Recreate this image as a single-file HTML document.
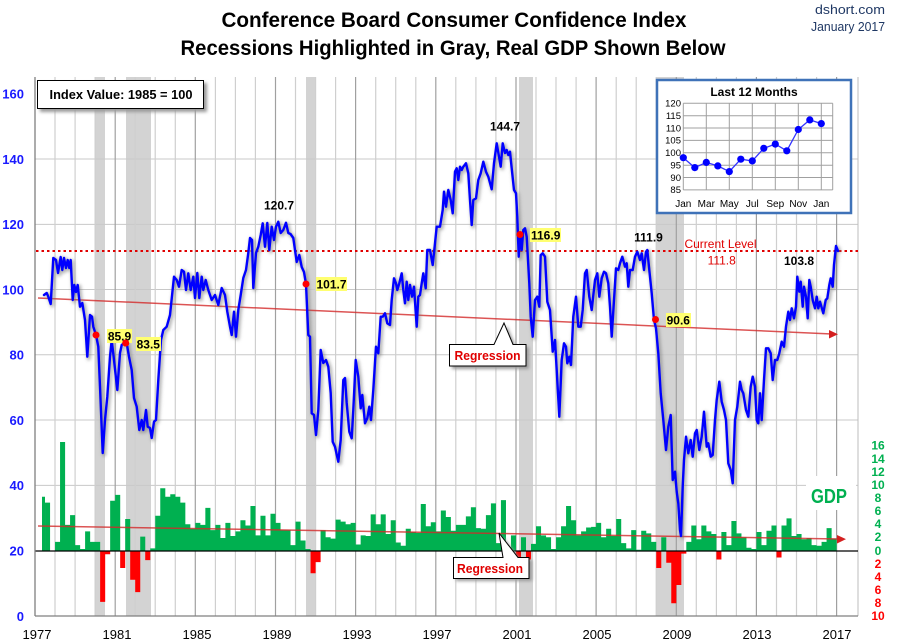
<!DOCTYPE html>
<html><head><meta charset="utf-8"><style>
html,body{margin:0;padding:0;background:#fff;width:900px;height:640px;overflow:hidden}
svg{display:block;font-family:"Liberation Sans",Arial,sans-serif}
</style></head><body>
<svg width="900" height="640" viewBox="0 0 900 640" xmlns="http://www.w3.org/2000/svg">
<defs>
<filter id="blur" x="-5%" y="-5%" width="110%" height="110%"><feGaussianBlur stdDeviation="1.6"/></filter>
<filter id="bsh" x="-10%" y="-20%" width="130%" height="150%"><feGaussianBlur stdDeviation="1.5"/></filter>
</defs>
<rect width="900" height="640" fill="#fff"/>

<!-- Title -->
<text x="454" y="27" text-anchor="middle" font-size="21" font-weight="bold" textLength="465" lengthAdjust="spacingAndGlyphs">Conference Board Consumer Confidence Index</text>
<text x="453" y="55" text-anchor="middle" font-size="21" font-weight="bold" textLength="545" lengthAdjust="spacingAndGlyphs">Recessions Highlighted in Gray, Real GDP Shown Below</text>
<text x="885" y="14" text-anchor="end" font-size="13" fill="#1f3864" textLength="70" lengthAdjust="spacingAndGlyphs">dshort.com</text>
<text x="885" y="31" text-anchor="end" font-size="13" fill="#1f3864" textLength="74" lengthAdjust="spacingAndGlyphs">January 2017</text>

<!-- Recession shading -->
<g fill="#d3d3d3">
<rect x="95" y="77" width="10" height="539"/>
<rect x="126" y="77" width="25" height="539"/>
<rect x="306" y="77" width="10" height="539"/>
<rect x="519" y="77" width="14" height="539"/>
<rect x="656" y="77" width="28" height="539"/>
</g>

<!-- Horizontal gridlines -->
<g stroke="#c8c8c8" stroke-width="1">
<line x1="35" y1="159" x2="858" y2="159"/>
<line x1="35" y1="224.4" x2="858" y2="224.4"/>
<line x1="35" y1="289.5" x2="858" y2="289.5"/>
<line x1="35" y1="354.8" x2="858" y2="354.8"/>
<line x1="35" y1="420" x2="858" y2="420"/>
<line x1="35" y1="485.4" x2="858" y2="485.4"/>
</g>

<!-- Vertical gridlines (JS-built + static majors) -->
<g id="vgrid" stroke="#cfcfcf" stroke-width="1.2"></g>
<g stroke="#a0a0a0" stroke-width="1.2">
<line x1="115.2" y1="77" x2="115.2" y2="616"/>
<line x1="195.3" y1="77" x2="195.3" y2="616"/>
<line x1="275.5" y1="77" x2="275.5" y2="616"/>
<line x1="355.6" y1="77" x2="355.6" y2="616"/>
<line x1="435.8" y1="77" x2="435.8" y2="616"/>
<line x1="516" y1="77" x2="516" y2="616"/>
<line x1="596.1" y1="77" x2="596.1" y2="616"/>
<line x1="676.3" y1="77" x2="676.3" y2="616"/>
<line x1="756.4" y1="77" x2="756.4" y2="616"/>
<line x1="836.6" y1="77" x2="836.6" y2="616"/>
</g>
<line x1="858" y1="77" x2="858" y2="616" stroke="#bdbdbd" stroke-width="1"/>

<!-- GDP bars -->
<path id="gpos" fill="#00b050" d=""/>
<path id="gneg" fill="#ff0000" d=""/>
<line x1="35" y1="551" x2="858" y2="551" stroke="#000" stroke-width="1.3"/>

<!-- Axes -->
<line x1="35" y1="77" x2="35" y2="616" stroke="#7f7f7f" stroke-width="1.3"/>
<line x1="35" y1="616" x2="858" y2="616" stroke="#7f7f7f" stroke-width="1.3"/>

<!-- GDP label with white box -->
<rect x="806" y="476" width="50" height="34" fill="#fff"/>
<text x="829" y="503" text-anchor="middle" font-size="20" font-weight="bold" fill="#00b050" textLength="36" lengthAdjust="spacingAndGlyphs">GDP</text>

<!-- Regression lines -->
<g stroke="#d42a2a" stroke-width="1.5" opacity="0.8">
<line x1="38" y1="298" x2="832" y2="334"/>
<line x1="38" y1="526" x2="839" y2="539"/>
</g>
<polygon points="838,334.3 829,330 829,338.5" fill="#d42020"/>
<polygon points="846,539.1 837,535 837,543.5" fill="#d42020"/>

<!-- Current level dotted -->
<line x1="36" y1="251" x2="858" y2="251" stroke="#e00000" stroke-width="2" stroke-dasharray="2.5,3"/>

<!-- CCI line -->
<polyline id="cciShadow" fill="none" stroke="#777" stroke-opacity="0.55" stroke-width="4" stroke-linejoin="round" filter="url(#blur)" transform="translate(1.5,1.5)" points=""/>
<polyline id="cci" fill="none" stroke="#0000ff" stroke-width="2.4" stroke-linejoin="round" stroke-linecap="round" points="44,295 46.7,293 48.3,296.7 50.7,304 53.3,258 56,260 58,273 60.7,257 62.3,270 64,258 66,268 67.7,260 69.3,268 70.7,260 71.7,280 72.7,300 74.3,285 76,292 77.7,285 80,306.7 82.3,303 85,320 87.3,356.7 90,315 92,316.7 93.3,326.7 96,335 98.3,346.7 100,386.7 102.7,453 105,420 107.3,396.7 110,356.7 111.7,340 114,360 117.3,390 120,353 121.7,345 124.3,343 126.7,343 129,356.7 131.7,370 134,398 136.7,406.7 139.3,430 141.7,420 143.3,430 146,410 147.7,426.7 150,428 151.7,438 154,421.7 156,420 158.3,380 161,340 163.3,330 166.7,326.7 170,315 174,276.7 176.7,280 179,286.7 181.7,270 184,271.7 186,290 188.3,273.3 190.7,290 193.3,276.7 195,298 197.3,273 199.3,298 201.7,276.7 203.3,290 205.7,280 208.3,290 211.7,300 215,295 218.3,305 221.7,288 225,295 227.3,311.7 230,326.7 231.7,335 234,311.7 236,336.7 238.3,310 240.7,295 243.3,278 246,270 248.3,253 250,238 252,240 253.3,288 256,253 258.3,246.7 260.7,235 262.7,223.3 265,246.7 267.3,223 269.3,250 271.7,226.7 274,240 276,226.7 278.3,221.7 280.7,233 283.3,230 286,222.7 288.3,233 290.5,234 293.3,238 296.7,262 299.3,255 301.7,267 304,272 306,284 308.3,335 310,336.7 311.7,413.3 314,415 316,435 318.3,410 320.7,350 323.3,363 326,360 328.3,366.7 330.7,393 332.7,441.7 335,446.7 338.3,461.7 340.7,440 343.3,380 345,378 346.7,403 349.3,431.7 351.7,438.3 353.3,410 355.7,360 358.3,376.7 360.7,408.3 362.3,395 365,423.3 367.3,418.3 369.3,406.7 371,420 373.3,390 376,346.7 378.3,353.3 380.7,316.7 382.7,316.7 385,313.3 387.3,323.3 390,325 391.7,300 394,278.3 396,283.3 397.3,290 399.3,283.3 401.7,273.3 403.3,290 405,303.3 406.7,281.7 408.3,300 410,285 412,296.7 414,286.7 416.7,326.7 418.3,296.7 420,295 421.7,283.3 423.3,273.3 425.7,288.3 427.3,250 430,250 432.7,265 435,243.3 436.7,226.7 440,226.7 442.7,210 444,191.7 446,206.7 448.3,190 450.7,200 452.7,213.3 455,171.7 456.7,168.3 458.3,180 460,166.7 461.7,170 463.3,166.7 466,163.3 468.3,173.3 470,200 471.7,225 473.3,200 476,198.3 478.3,180 480.7,173.3 483.3,161.7 486,171.7 488.3,176.7 491.7,189.3 494,163.3 496.7,143.3 499,156.7 500.7,166.7 502.7,143.3 505,153 506.7,150 508.3,155 510,151.7 511.7,168.3 514,190 516,193.3 517.3,216.7 518.7,256.7 520,235 521.7,250 523.3,230 525,228.3 526.7,236.7 529.3,283.3 530.7,316.7 532.7,336.7 535,300 537.3,296.7 539.3,306.7 540.7,255 542.7,253.3 545,256.7 547.3,301.7 550,310 552.7,351.7 555,340 556.7,370 559.3,416.7 561.7,360 564,343.3 566,346.7 567.3,363.3 569.3,356.7 571,365 573.3,316.7 576,296.7 578.3,326.7 580.7,326.7 582.7,310 585,273.3 586.7,270 589.3,296.7 591.7,310 595,280 597.3,273.3 599.3,296.7 601.7,278.3 604,271.7 606,273.3 608.3,283.3 610,306.7 611.7,336.7 614,300 616,268.3 618.3,270 620,263.3 622.3,256.7 625,266.7 626.7,263.3 628.3,286.7 630,270 632.7,270 635,256.7 637.3,251.7 640,260 641.7,253.3 644,270 646,251.7 647.3,250 649.3,270 651.7,293.3 654,320 656,328.3 658.3,353.3 660.7,393.3 663.3,420 666,450 668.3,426.7 670.7,415 672.7,480 675,471.7 676.7,491.7 678.3,503.3 680,530 681,536 682.7,486.7 684,460 686,436.7 688.3,453.3 690.7,440 692.7,456.7 695,433.3 696.7,430 699.3,450 701.7,436.7 704,411.7 706.7,446.7 708.3,443.3 710.7,456.7 712.7,455 715,420 716.7,400 719.3,381.7 721.7,401.7 724,410 726,420 728.3,463.3 730.7,470 732.7,483.3 735,420 737.3,406.7 740,381.7 741.7,390 743.3,393.3 746,410 748.3,416.7 750.7,386.7 752.7,376.7 755,386.7 756.7,420 758.3,423.3 760,393.3 761.7,420 764,380 766,348.3 768.3,348.3 770.7,353.3 772.7,380 775,360 777.3,360 779.3,353.3 781.7,341.7 784,346.7 786,326.7 788.3,311.7 790,320 791.7,308.3 794,318.3 796,306.7 797.3,276.7 799.3,291.7 800.7,281.7 802.7,306.7 804,286.7 806,296.7 807.7,318.3 809.3,280 810.7,286.7 812.7,300 815,308.3 816.7,296.7 818.3,308.3 820,301.7 823.3,313.3 825.7,300 827.3,298.3 829.3,285 830.7,278.3 832.7,286.7 834,265 836,246 838,251"/>

<!-- Red dots -->
<g fill="#ff0000">
<circle cx="96" cy="335" r="3.5"/>
<circle cx="125.7" cy="343" r="3.5"/>
<circle cx="306" cy="284" r="3.5"/>
<circle cx="520" cy="234.5" r="3.5"/>
<circle cx="655.5" cy="319.5" r="3.5"/>
</g>

<!-- Annotation labels -->
<g font-size="12" font-weight="bold" text-anchor="middle">
<text x="505" y="130.5">144.7</text>
<text x="279" y="209.5">120.7</text>
<text x="648.5" y="241.5">111.9</text>
<text x="799" y="265">103.8</text>
</g>
<g fill="#ffff70">
<rect x="530" y="228" width="31" height="14"/>
<rect x="316" y="277" width="31" height="14"/>
<rect x="107" y="329" width="25" height="14"/>
<rect x="136" y="337" width="25" height="14"/>
<rect x="666" y="313" width="25" height="14"/>
</g>
<g font-size="12" font-weight="bold" text-anchor="middle">
<text x="545.7" y="239.5">116.9</text>
<text x="331.5" y="288.5">101.7</text>
<text x="119.5" y="340.5">85.9</text>
<text x="148.3" y="348.5">83.5</text>
<text x="678.3" y="324.5">90.6</text>
</g>
<circle cx="125.7" cy="343" r="3.5" fill="#ff0000"/>

<text x="720.5" y="248" text-anchor="middle" font-size="12" fill="#e00000">Current Level</text>
<text x="721.7" y="264.5" text-anchor="middle" font-size="12" fill="#e00000">111.8</text>

<!-- Index box -->
<rect x="40" y="83" width="167" height="29" fill="#999" filter="url(#bsh)"/>
<rect x="37.5" y="80.5" width="166" height="28" fill="#fff" stroke="#000" stroke-width="1"/>
<text x="121" y="99" text-anchor="middle" font-size="13" font-weight="bold" textLength="143" lengthAdjust="spacingAndGlyphs">Index Value: 1985 = 100</text>

<!-- Regression callouts -->
<path d="M452,347 H497 L507,326 L516,347 H529 V369 H452 Z" fill="#999" filter="url(#bsh)"/>
<path d="M449.5,344.5 H494 L504,323 L513,344.5 H526 V366 H449.5 Z" fill="#fff" stroke="#000" stroke-width="1"/>
<text x="487.5" y="360" text-anchor="middle" font-size="13" font-weight="bold" fill="#e00000" textLength="66" lengthAdjust="spacingAndGlyphs">Regression</text>

<path d="M456,560 H506 L502,536 L521,560 H532 V581 H456 Z" fill="#999" filter="url(#bsh)"/>
<path d="M453.5,557.5 H503 L499,533 L518,557.5 H529 V578.5 H453.5 Z" fill="#fff" stroke="#000" stroke-width="1"/>
<text x="490" y="573" text-anchor="middle" font-size="13" font-weight="bold" fill="#e00000" textLength="66" lengthAdjust="spacingAndGlyphs">Regression</text>

<!-- Left axis labels -->
<g font-size="13" font-weight="bold" fill="#1a1aff" text-anchor="end">
<text x="24" y="98.5">160</text>
<text x="24" y="163.8">140</text>
<text x="24" y="229">120</text>
<text x="24" y="294.3">100</text>
<text x="24" y="359.5">80</text>
<text x="24" y="424.8">60</text>
<text x="24" y="490">40</text>
<text x="24" y="555.5">20</text>
<text x="24" y="620.8">0</text>
</g>

<!-- Right GDP axis labels -->
<g font-size="12" font-weight="bold" fill="#00b050" text-anchor="middle">
<text x="878" y="449.5">16</text>
<text x="878" y="463">14</text>
<text x="878" y="476">12</text>
<text x="878" y="489">10</text>
<text x="878" y="502">8</text>
<text x="878" y="515">6</text>
<text x="878" y="528">4</text>
<text x="878" y="541">2</text>
<text x="878" y="555">0</text>
</g>
<g font-size="12" font-weight="bold" fill="#ff0000" text-anchor="middle">
<text x="878" y="568">2</text>
<text x="878" y="581">4</text>
<text x="878" y="594">6</text>
<text x="878" y="607">8</text>
<text x="878" y="620">10</text>
</g>

<!-- X axis labels -->
<g font-size="13" text-anchor="middle">
<text x="37" y="639">1977</text>
<text x="117" y="639">1981</text>
<text x="197" y="639">1985</text>
<text x="277" y="639">1989</text>
<text x="357" y="639">1993</text>
<text x="437" y="639">1997</text>
<text x="517" y="639">2001</text>
<text x="597" y="639">2005</text>
<text x="677" y="639">2009</text>
<text x="757" y="639">2013</text>
<text x="837" y="639">2017</text>
</g>

<!-- Inset -->
<rect x="657" y="80" width="194" height="133" fill="#fff" stroke="#3f72b8" stroke-width="2.5"/>
<text x="754" y="96" text-anchor="middle" font-size="12" font-weight="bold">Last 12 Months</text>
<g stroke="#a0a0a0" stroke-width="1">
<line x1="683.3" y1="103.3" x2="832.7" y2="103.3"/>
<line x1="683.3" y1="115.7" x2="832.7" y2="115.7"/>
<line x1="683.3" y1="128" x2="832.7" y2="128"/>
<line x1="683.3" y1="140.4" x2="832.7" y2="140.4"/>
<line x1="683.3" y1="152.8" x2="832.7" y2="152.8"/>
<line x1="683.3" y1="165.2" x2="832.7" y2="165.2"/>
<line x1="683.3" y1="177.5" x2="832.7" y2="177.5"/>
<line x1="683.3" y1="189.9" x2="832.7" y2="189.9"/>
<line x1="683.3" y1="103.3" x2="683.3" y2="189.9"/>
<line x1="706.3" y1="103.3" x2="706.3" y2="189.9"/>
<line x1="729.3" y1="103.3" x2="729.3" y2="189.9"/>
<line x1="752.3" y1="103.3" x2="752.3" y2="189.9"/>
<line x1="775.3" y1="103.3" x2="775.3" y2="189.9"/>
<line x1="798.3" y1="103.3" x2="798.3" y2="189.9"/>
<line x1="821.3" y1="103.3" x2="821.3" y2="189.9"/>
<line x1="832.7" y1="103.3" x2="832.7" y2="189.9"/>
</g>
<g font-size="9.5" text-anchor="end">
<text x="681" y="106.5">120</text>
<text x="681" y="119">115</text>
<text x="681" y="131.3">110</text>
<text x="681" y="143.7">105</text>
<text x="681" y="156">100</text>
<text x="681" y="168.5">95</text>
<text x="681" y="180.8">90</text>
<text x="681" y="193">85</text>
</g>
<g font-size="10" text-anchor="middle">
<text x="683.3" y="207">Jan</text>
<text x="706.3" y="207">Mar</text>
<text x="729.3" y="207">May</text>
<text x="752.3" y="207">Jul</text>
<text x="775.3" y="207">Sep</text>
<text x="798.3" y="207">Nov</text>
<text x="821.3" y="207">Jan</text>
</g>
<polyline fill="none" stroke="#3333ff" stroke-width="1.3" points="683.3,157.7 694.8,167.6 706.3,162.4 717.8,165.9 729.3,171.6 740.8,159.2 752.3,160.9 763.8,148.3 775.3,144.1 786.8,150.8 798.3,129.5 809.8,119.9 821.3,123.6"/>
<g fill="#0000ff">
<circle cx="683.3" cy="157.7" r="3.6"/>
<circle cx="694.8" cy="167.6" r="3.6"/>
<circle cx="706.3" cy="162.4" r="3.6"/>
<circle cx="717.8" cy="165.9" r="3.6"/>
<circle cx="729.3" cy="171.6" r="3.6"/>
<circle cx="740.8" cy="159.2" r="3.6"/>
<circle cx="752.3" cy="160.9" r="3.6"/>
<circle cx="763.8" cy="148.3" r="3.6"/>
<circle cx="775.3" cy="144.1" r="3.6"/>
<circle cx="786.8" cy="150.8" r="3.6"/>
<circle cx="798.3" cy="129.5" r="3.6"/>
<circle cx="809.8" cy="119.9" r="3.6"/>
<circle cx="821.3" cy="123.6" r="3.6"/>
</g>
</svg>
<script>
(function(){
var ns="http://www.w3.org/2000/svg";
// minor vertical gridlines
var vg=document.getElementById("vgrid");
for(var y=1978;y<=2017;y++){ if((y-1977)%4===0) continue;
 var x=35+(y-1977)*20.04; var l=document.createElementNS(ns,"line");
 l.setAttribute("x1",x.toFixed(1));l.setAttribute("x2",x.toFixed(1));l.setAttribute("y1","77");l.setAttribute("y2","616");vg.appendChild(l);}
// GDP bars
var g=[8.3,7.4,0.0,
1.4,16.7,4.0,5.5, 0.9,0.3,3.0,1.4, 1.4,-7.8,-0.5,7.7, 8.6,-2.6,4.9,-4.4, -6.3,2.2,-1.4,0.4,
5.4,9.6,8.3,8.7, 8.3,7.4,4.1,3.4, 4.3,4.0,6.6,3.2, 4.0,2.0,4.3,2.3, 3.0,4.7,3.9,6.9,
2.4,5.4,2.4,5.7, 4.3,3.2,3.2,0.9, 4.5,1.6,0.3,-3.4, -1.7,3.2,2.1,1.9, 4.8,4.5,4.1,4.3,
1.0,2.4,2.3,5.6, 4.1,5.6,2.6,4.7, 1.3,0.8,3.4,2.9, 2.8,7.2,3.8,4.4, 3.0,6.2,5.2,3.1,
4.0,4.0,5.3,6.7, 3.5,3.4,5.5,7.3, 1.2,7.8,0.5,2.4, -1.1,2.1,-1.3,1.1, 3.8,2.4,2.1,0.3,
2.1,3.8,6.9,4.7, 2.4,3.0,3.6,3.7, 4.3,2.1,3.4,2.3, 4.9,1.2,0.4,3.2, 0.2,3.1,2.7,1.4,
-2.6,2.1,-1.8,-8.0, -5.2,-0.4,1.4,3.9, 1.8,3.9,3.0,2.6, -1.3,2.9,0.9,4.6, 2.7,2.1,0.5,0.3,
2.9,0.9,3.1,3.9, -1.0,3.9,5.0,2.3, 2.6,1.8,2.0,0.9, 0.8,1.4,3.5,1.9];
var p="",n="";
for(var i=0;i<g.length;i++){
 var t=1977.25+i*0.25; var x=35+(t-1977)*20.04; var w=5.05;
 if(i===0){x=42;w=3;}
 var h=g[i]*6.53;
 var seg="M"+x.toFixed(2)+" 551V"+(551-h).toFixed(2)+"h"+w+"V551z";
 if(g[i]>=0)p+=seg;else n+=seg;}
document.getElementById("gpos").setAttribute("d",p);
document.getElementById("gneg").setAttribute("d",n);
var c=document.getElementById("cci");
document.getElementById("cciShadow").setAttribute("points",c.getAttribute("points"));
})();
</script>
</body></html>
